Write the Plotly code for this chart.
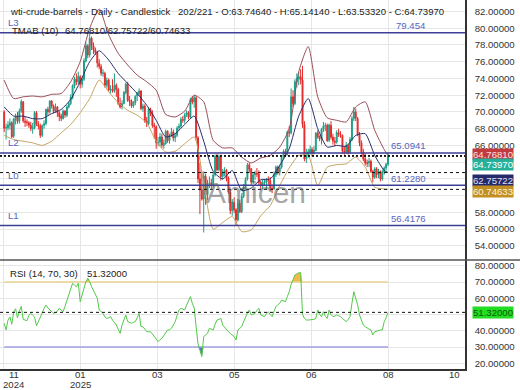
import plotly.graph_objects as go
from plotly.subplots import make_subplots

# ---------------- data ----------------
opens = [70.00, 68.10, 68.10, 68.40, 68.70, 67.10, 69.10, 69.40, 68.90, 70.10,
         71.20, 68.90, 68.80, 68.70, 68.40, 68.00, 68.10, 69.90, 68.50, 68.30,
         67.20, 68.40, 68.60, 70.30, 70.00, 71.30, 70.70, 70.10, 70.60, 69.90,
         69.50, 69.20, 70.10, 69.60, 70.60, 71.00, 71.70, 73.10, 73.90, 73.60,
         74.20, 73.30, 73.90, 76.10, 77.90, 76.80, 78.80, 77.90, 77.40, 77.10,
         75.80, 75.40, 74.60, 74.60, 73.20, 73.80, 72.60, 72.70, 72.50, 73.20,
         72.70, 71.00, 70.60, 71.00, 72.30, 73.30, 71.40, 71.30, 70.70, 71.10,
         71.90, 72.20, 72.50, 70.40, 70.70, 68.90, 68.60, 70.30, 69.80, 68.40,
         68.20, 66.30, 66.40, 67.00, 66.00, 66.20, 67.70, 66.60, 67.20, 67.60,
         66.90, 67.20, 68.10, 68.30, 69.10, 69.00, 69.70, 69.90, 69.40, 71.50,
         71.20, 71.70, 66.90, 62.00, 60.70, 59.60, 62.30, 60.10, 61.50, 61.50,
         61.30, 62.50, 64.70, 63.10, 64.70, 62.30, 62.80, 63.00, 62.10, 60.40,
         58.20, 59.20, 58.30, 57.10, 59.10, 58.10, 59.90, 61.00, 62.00, 63.70,
         63.20, 61.60, 62.50, 62.70, 62.60, 61.60, 61.20, 61.50, 61.60, 61.90,
         61.80, 60.90, 60.80, 62.50, 63.40, 62.80, 63.40, 64.60, 65.30, 65.00,
         67.60, 67.50, 71.80, 71.00, 73.60, 74.00, 74.20, 73.80, 68.50, 64.40,
         64.90, 65.20, 65.50, 65.10, 65.40, 67.50, 67.00, 66.80, 67.90, 68.30,
         68.40, 66.60, 68.40, 67.00, 66.50, 66.40, 67.50, 67.30, 67.20, 65.30,
         65.20, 66.00, 65.20, 66.70, 69.20, 70.00, 69.20, 67.30, 66.30, 65.20,
         64.40, 63.90, 63.90, 64.10, 62.90, 62.20, 63.20, 62.50, 62.90, 62.00,
         62.80, 63.30, 63.7464]
highs = [70.20, 68.60, 68.90, 69.20, 68.90, 69.30, 69.80, 70.00, 70.40, 71.50,
         71.30, 69.40, 69.10, 68.90, 68.80, 68.70, 70.10, 70.10, 68.90, 68.60,
         68.50, 69.00, 70.40, 70.60, 71.40, 71.40, 70.90, 71.00, 70.70, 70.10,
         69.80, 70.30, 70.20, 70.80, 71.20, 72.10, 73.30, 74.20, 74.60, 74.80,
         74.40, 74.20, 76.40, 78.30, 78.10, 79.454, 79.00, 78.30, 77.70, 77.30,
         76.30, 75.70, 75.10, 74.80, 74.10, 74.00, 73.20, 73.90, 74.60, 73.40,
         72.90, 71.70, 71.40, 72.50, 73.50, 73.60, 71.90, 71.50, 71.30, 72.00,
         72.40, 72.80, 72.60, 71.00, 70.90, 69.40, 70.60, 70.50, 70.20, 68.70,
         68.40, 67.00, 67.50, 67.40, 66.70, 67.90, 67.80, 67.40, 68.10, 67.90,
         67.50, 68.30, 68.60, 69.40, 69.50, 69.90, 70.20, 70.10, 71.70, 71.90,
         72.00, 71.90, 67.10, 63.90, 62.90, 62.90, 62.60, 61.90, 62.30, 62.00,
         62.80, 64.90, 65.00, 64.90, 64.90, 63.20, 63.40, 63.20, 62.30, 60.70,
         59.60, 59.80, 58.50, 59.60, 59.50, 60.30, 61.40, 62.20, 63.90, 63.90,
         63.30, 62.70, 63.00, 63.30, 63.00, 61.80, 61.90, 61.90, 62.10, 62.30,
         62.20, 61.30, 62.90, 63.60, 63.60, 63.70, 64.80, 65.50, 65.60, 67.80,
         68.30, 72.80, 72.60, 73.90, 74.60, 74.80, 75.10, 75.50, 68.90, 65.60,
         65.60, 66.00, 65.80, 65.90, 67.60, 67.80, 67.20, 68.10, 68.80, 68.70,
         68.60, 68.60, 68.90, 67.40, 67.00, 67.80, 68.00, 67.70, 67.30, 65.90,
         66.40, 66.20, 67.00, 69.50, 70.60, 70.40, 69.40, 67.60, 66.60, 65.60,
         65.00, 64.30, 64.50, 64.30, 63.10, 63.40, 63.40, 63.20, 63.00, 63.10,
         63.50, 63.90, 65.1414]
lows = [67.60, 66.70, 67.80, 67.90, 66.90, 66.90, 68.50, 68.60, 68.60, 69.90,
        68.70, 68.20, 68.30, 68.10, 67.70, 67.40, 67.90, 68.30, 67.90, 66.90,
        67.00, 68.00, 68.40, 69.60, 69.80, 70.40, 69.80, 69.90, 69.40, 68.90,
        68.90, 69.10, 69.30, 69.40, 70.40, 70.80, 71.50, 72.80, 73.20, 73.30,
        72.80, 72.90, 73.70, 75.90, 76.40, 76.50, 77.40, 76.90, 76.80, 75.30,
        75.10, 74.30, 74.20, 72.90, 72.90, 72.40, 72.20, 72.30, 72.30, 71.80,
        70.80, 70.40, 70.30, 70.90, 72.10, 71.20, 70.70, 70.50, 70.50, 70.80,
        71.30, 71.90, 70.20, 70.00, 68.70, 68.20, 68.40, 69.50, 68.10, 66.80,
        65.60, 65.90, 65.90, 65.70, 65.60, 66.10, 66.30, 66.20, 67.00, 66.50,
        66.40, 67.00, 67.80, 68.10, 68.70, 68.60, 69.40, 69.10, 69.20, 70.90,
        70.50, 66.60, 61.50, 57.80, 59.40, 55.60, 58.90, 59.50, 60.90, 60.80,
        60.90, 62.30, 62.90, 62.90, 61.80, 61.90, 62.30, 61.70, 60.20, 57.80,
        57.60, 57.90, 56.40, 56.90, 57.90, 57.90, 59.70, 60.80, 61.80, 62.70,
        61.30, 61.40, 61.90, 62.20, 61.30, 60.70, 60.80, 61.20, 60.80, 61.30,
        60.60, 60.30, 60.70, 62.20, 62.50, 62.40, 63.20, 64.40, 64.60, 64.80,
        67.00, 67.30, 70.60, 70.80, 72.90, 73.20, 73.30, 68.10, 64.10, 63.90,
        64.50, 64.90, 64.70, 64.90, 65.30, 66.80, 66.50, 66.10, 67.60, 67.70,
        66.40, 66.40, 66.70, 66.10, 65.90, 66.20, 67.00, 66.90, 65.00, 64.90,
        65.00, 64.90, 65.00, 66.50, 68.90, 68.90, 67.10, 65.90, 64.90, 64.10,
        63.60, 63.40, 63.40, 62.70, 61.60, 62.00, 62.10, 62.10, 61.70, 61.80,
        62.50, 63.00, 63.5332]
closes = [68.04, 68.12, 68.43, 68.70, 67.02, 69.16, 69.39, 68.87, 70.10, 71.24,
          68.94, 68.77, 68.72, 68.40, 68.00, 68.10, 69.94, 68.54, 68.30, 67.20,
          68.37, 68.59, 70.29, 70.02, 71.29, 70.71, 70.08, 70.58, 69.91, 69.46,
          69.24, 70.10, 69.62, 70.60, 70.99, 71.72, 73.13, 73.96, 73.56, 74.25,
          73.32, 73.92, 76.10, 77.90, 76.80, 78.80, 77.90, 77.40, 77.10, 75.83,
          75.44, 74.62, 74.66, 73.17, 73.77, 72.62, 72.73, 72.53, 73.16, 72.70,
          71.03, 70.61, 71.00, 72.32, 73.32, 71.37, 71.29, 70.74, 71.10, 71.85,
          72.25, 72.48, 70.40, 70.70, 68.93, 68.62, 70.35, 69.76, 68.37, 68.26,
          66.31, 66.36, 67.04, 66.03, 66.25, 67.68, 66.55, 67.18, 67.58, 66.90,
          67.16, 68.07, 68.28, 69.11, 69.00, 69.65, 69.92, 69.36, 71.48, 71.20,
          71.71, 66.95, 61.99, 60.70, 59.58, 62.35, 60.07, 61.50, 61.53, 61.33,
          62.47, 64.68, 63.08, 64.67, 62.27, 62.79, 63.02, 62.05, 60.42, 58.21,
          59.24, 58.29, 57.13, 59.09, 58.07, 59.91, 61.02, 61.95, 63.67, 63.15,
          61.62, 62.49, 62.69, 62.56, 61.57, 61.20, 61.53, 61.60, 61.89, 61.84,
          60.94, 60.79, 62.52, 63.41, 62.85, 63.37, 64.58, 65.29, 64.98, 67.60,
          67.50, 71.80, 71.00, 73.60, 74.00, 74.20, 73.80, 68.51, 64.37, 64.92,
          65.24, 65.52, 65.11, 65.45, 67.45, 67.00, 66.80, 67.93, 68.33, 68.38,
          66.57, 68.45, 66.98, 66.52, 66.38, 67.54, 67.34, 67.20, 65.31, 65.25,
          66.03, 65.16, 66.71, 69.21, 70.00, 69.26, 67.33, 66.29, 65.16, 64.35,
          63.88, 63.88, 64.10, 62.90, 62.20, 63.20, 62.50, 62.90, 62.00, 62.80,
          63.30, 63.75, 64.7397]
rsi = [44.5, 40.5, 46.5, 48.5, 44.0, 51.5, 53.5, 48.0, 52.0, 55.0,
       47.0, 46.5, 46.2, 49.5, 50.7, 49.5, 48.5, 43.0, 45.5, 47.6,
       51.0, 53.8, 55.8, 54.0, 52.8, 51.5, 50.7, 51.2, 52.0, 53.8,
       52.5, 51.7, 55.0, 58.9, 62.0, 65.1, 69.2, 68.0, 67.1, 69.2,
       57.9, 62.0, 67.0, 70.2, 72.3, 70.2, 67.1, 64.5, 62.0, 60.0,
       52.8, 51.5, 50.7, 48.5, 47.6, 48.0, 48.7, 46.6, 45.0, 43.5,
       41.0, 38.4, 43.5, 47.0, 49.7, 45.6, 45.0, 44.6, 45.2, 45.6,
       48.0, 50.7, 42.5, 42.5, 41.0, 39.4, 39.4, 39.4, 38.0, 36.4,
       34.5, 33.3, 34.5, 35.3, 37.0, 38.4, 40.5, 40.5, 41.5, 43.5,
       45.6, 49.5, 52.8, 53.8, 53.3, 52.8, 55.8, 58.5, 61.0, 56.9,
       54.0, 42.5, 32.0, 28.0, 24.1, 36.4, 37.5, 38.4, 41.5, 41.0,
       40.5, 44.0, 46.6, 47.0, 47.6, 43.5, 42.0, 40.5, 39.4, 38.4,
       37.5, 36.4, 34.3, 40.5, 41.5, 42.5, 45.5, 48.7, 51.0, 52.8,
       49.7, 50.2, 50.7, 52.5, 53.8, 49.7, 49.2, 48.7, 50.5, 51.7,
       50.0, 48.7, 52.0, 54.8, 56.0, 56.9, 58.9, 58.4, 57.9, 61.0,
       64.0, 68.5, 71.2, 74.3, 75.0, 75.7, 75.7, 50.0, 47.6, 46.6,
       46.6, 46.6, 46.6, 47.0, 47.6, 52.8, 50.0, 48.7, 51.7, 49.0,
       47.6, 52.8, 50.0, 48.7, 49.0, 49.7, 49.2, 48.7, 47.6, 46.5,
       45.6, 47.0, 48.7, 56.9, 64.0, 60.0, 56.0, 49.7, 46.0, 43.5,
       42.5, 41.5, 41.0, 40.5, 37.4, 39.4, 39.8, 40.5, 40.5, 40.5,
       45.6, 48.0, 51.32]

band_idx = [0, 5, 10, 15, 20, 25, 30, 35, 40, 45, 50, 55, 60, 65, 70, 75, 80, 85, 90, 95,
            100, 105, 110, 115, 120, 125, 130, 135, 140, 145, 150, 155, 160, 165, 170, 175,
            180, 185, 190, 195, 200, 202]
band_upper = [73.8, 71.6, 71.8, 71.9, 71.8, 72.1, 72.2, 73.6, 76.0, 80.0, 82.3, 79.2, 77.0, 75.6,
              74.4, 73.6, 72.6, 69.7, 69.4, 70.1, 72.0, 71.2, 66.6, 65.7, 65.7, 64.6, 63.9, 64.5,
              64.8, 65.8, 68.0, 74.8, 77.8, 71.8, 69.3, 69.0, 68.8, 70.6, 71.2, 67.8, 65.5, 64.76810]
band_mid = [70.6, 69.5, 69.5, 69.2, 69.2, 69.8, 70.3, 71.5, 73.6, 76.0, 77.3, 76.2, 74.6, 73.4,
            72.2, 70.8, 69.0, 67.0, 67.4, 68.5, 69.5, 66.5, 62.9, 62.0, 63.0, 60.6, 60.9, 61.9,
            62.0, 63.6, 65.6, 69.5, 71.6, 68.0, 65.8, 66.0, 65.9, 67.2, 67.4, 64.8, 63.0, 62.75722]
band_lower = [67.2, 66.7, 66.5, 66.3, 66.0, 66.5, 67.5, 68.5, 69.9, 71.6, 73.8, 72.4, 71.1, 70.2,
              69.6, 68.7, 66.5, 65.2, 65.3, 66.2, 67.0, 61.5, 56.0, 56.8, 57.5, 55.7, 55.9, 57.6,
              58.8, 61.2, 63.3, 64.8, 64.8, 61.2, 63.4, 63.7, 63.8, 64.6, 63.4, 61.0, 60.8, 60.74633]

levels = [79.454, 65.0941, 61.2280, 56.4176]
level_names = ["L3", "L2", "L0", "L1"]
level_texts = ["79.454", "65.0941", "61.2280", "56.4176"]

rsi_levels = [70, 30]
main_ticks = [54, 56, 58, 60, 62, 64, 66, 68, 70, 72, 74, 76, 78, 80, 82]
main_hidden = [60, 62, 64]          # labels covered by the value badges
rsi_ticks = [20, 30, 40, 50, 60, 70, 80]
rsi_hidden = [50]
x_grid = [-0.5, 40, 80.5, 121, 161.5, 202]
# (bar position of the label, month, year)
x_labels = [(5.2, "11", "2024"), (40, "01", "2025"), (80.5, "03", ""), (121, "05", ""),
            (161.5, "06", ""), (202, "08", ""), (236.8, "10", "")]

# ---------------- styling ----------------
FONT = "Liberation Sans, Arial, sans-serif"
UP = "#1f9e86"
DN = "#e42b2b"
C_UP_BAND = "#9a4d58"
C_MID_BAND = "#272d6c"
C_LOW_BAND = "#c4a460"
C_LEVEL = "#3c3f96"
C_LABEL = "#5566c0"
GRID = "#e6e6e6"
FS = 9.6

n = len(closes)
bars = list(range(n))

fig = make_subplots(rows=2, cols=1, shared_xaxes=True, vertical_spacing=0,
                    row_heights=[260 / 369, 109 / 369])

fig.add_trace(go.Scatter(x=band_idx, y=band_upper, mode="lines",
                         line=dict(color=C_UP_BAND, width=1, shape="spline", smoothing=0.6),
                         hoverinfo="skip"), row=1, col=1)
fig.add_trace(go.Scatter(x=band_idx, y=band_mid, mode="lines",
                         line=dict(color=C_MID_BAND, width=1, shape="spline", smoothing=0.6),
                         hoverinfo="skip"), row=1, col=1)
fig.add_trace(go.Scatter(x=band_idx, y=band_lower, mode="lines",
                         line=dict(color=C_LOW_BAND, width=1, shape="spline", smoothing=0.6),
                         hoverinfo="skip"), row=1, col=1)

fig.add_trace(go.Candlestick(x=bars, open=opens, high=highs, low=lows, close=closes,
                             increasing=dict(line=dict(color=UP, width=1), fillcolor=UP),
                             decreasing=dict(line=dict(color=DN, width=1), fillcolor=DN),
                             whiskerwidth=0), row=1, col=1)

# RSI panel
over = [max(v, rsi_levels[0]) for v in rsi]
under = [min(v, rsi_levels[1]) for v in rsi]
fig.add_trace(go.Scatter(x=[bars[0], bars[-1]], y=[rsi_levels[0]] * 2, mode="lines",
                         line=dict(color="#e8d592", width=1.5), hoverinfo="skip"), row=2, col=1)
fig.add_trace(go.Scatter(x=bars, y=over, mode="lines", line=dict(width=0, color="#f2b84a"),
                         fill="tonexty", fillcolor="#f2b84a", hoverinfo="skip"), row=2, col=1)
fig.add_trace(go.Scatter(x=[bars[0], bars[-1]], y=[rsi_levels[1]] * 2, mode="lines",
                         line=dict(color="#a0a0e0", width=1.5), hoverinfo="skip"), row=2, col=1)
fig.add_trace(go.Scatter(x=bars, y=under, mode="lines", line=dict(width=0, color="#6470c8"),
                         fill="tonexty", fillcolor="#6470c8", hoverinfo="skip"), row=2, col=1)
fig.add_trace(go.Scatter(x=bars, y=rsi, mode="lines", line=dict(color="#52c94a", width=1),
                         hoverinfo="skip"), row=2, col=1)

shapes = []
for v in levels:
    shapes.append(dict(type="line", xref="x domain", x0=0, x1=1, yref="y", y0=v, y1=v,
                       line=dict(color=C_LEVEL, width=1.5), layer="above"))
# current-value lines
shapes.append(dict(type="line", xref="x domain", x0=0, x1=1, yref="y", y0=band_upper[-1],
                   y1=band_upper[-1], line=dict(color="#111", width=1.5, dash="2px,2px")))
shapes.append(dict(type="line", xref="x domain", x0=0, x1=1, yref="y", y0=closes[-1],
                   y1=closes[-1], line=dict(color="#111", width=1.5, dash="2px,2px")))
shapes.append(dict(type="line", xref="x domain", x0=0, x1=1, yref="y", y0=band_mid[-1],
                   y1=band_mid[-1], line=dict(color="#111", width=1, dash="3px,3px")))
shapes.append(dict(type="line", xref="x domain", x0=0, x1=1, yref="y", y0=band_lower[-1],
                   y1=band_lower[-1], line=dict(color="#111", width=1, dash="3px,3px")))
shapes.append(dict(type="line", xref="x2 domain", x0=0, x1=1, yref="y2", y0=rsi[-1],
                   y1=rsi[-1], line=dict(color="#111", width=1, dash="3px,3px")))
# panel divider
shapes.append(dict(type="line", xref="paper", x0=0, x1=520 / 465, yref="paper",
                   y0=109 / 369, y1=109 / 369, line=dict(color="#555", width=1.5)))

ann = []
def text(x, y, s, color="#333", size=FS, xanchor="left", xref="paper", yref="paper", **kw):
    ann.append(dict(x=x, y=y, xref=xref, yref=yref, text=s, showarrow=False,
                    xanchor=xanchor, yanchor="middle",
                    font=dict(family=FONT, size=size, color=color), **kw))

H = 369.0
W = 465.0
text(8 / W, 1 - 12 / H, "wti-crude-barrels - Daily - Candlestick", color="#222")
text(176 / W, 1 - 12 / H,
     "202/221 - O:%.5f - H:%.5f - L:%.5f - C:%.5f" % (opens[-1], highs[-1], lows[-1], closes[-1]),
     color="#222")
text(10 / W, 1 - 30 / H, "TMAB (10)", color="#222")
text(63 / W, 1 - 30 / H, "%.5f/%.5f/%.5f" % (band_upper[-1], band_mid[-1], band_lower[-1]),
     color="#222")
text(8 / W, 1 - 273 / H, "RSI (14, 70, 30)", color="#222")
text(85 / W, 1 - 273 / H, "%.5f" % rsi[-1], color="#222")

for v, nm, tx in zip(levels, level_names, level_texts):
    text(6 / W, v, nm, color=C_LABEL, yref="y", yshift=10)
    text(428 / W, v, tx, color=C_LABEL, yref="y", xanchor="right", yshift=7)

# value badges on the price axis
badges = [(band_upper[-1], "#c23a3e", "#f8e0e0", 1.5),
          (closes[-1], "#26b09a", "#ffffff", -8.5),
          (band_mid[-1], "#262a6a", "#e0e2f0", -7.5),
          (band_lower[-1], "#c28f22", "#fff4d8", -2.5)]
for v, bg, fg, sh in badges:
    ann.append(dict(x=1, y=v, xref="paper", yref="y", text="%.5f" % v, showarrow=False,
                    xanchor="left", yanchor="middle", xshift=7, yshift=sh, bgcolor=bg,
                    borderpad=0, font=dict(family=FONT, size=FS, color=fg)))
ann.append(dict(x=1, y=rsi[-1], xref="paper", yref="y2", text="%.5f" % rsi[-1], showarrow=False,
                xanchor="left", yanchor="middle", xshift=7, bgcolor="#22dd22", borderpad=0,
                font=dict(family=FONT, size=FS, color="#0b5a0b")))

# x-axis labels (month, with the year underneath where it changes)
for xv, mon, yr in x_labels:
    ann.append(dict(x=xv, y=0, xref="x2", yref="paper", text=mon, showarrow=False,
                    xanchor="center", yanchor="middle", yshift=-5.5, borderpad=0,
                    font=dict(family=FONT, size=FS, color="#333")))
    if yr:
        ann.append(dict(x=xv, y=0, xref="x2", yref="paper", text=yr, showarrow=False,
                        xanchor="center", yanchor="middle", yshift=-15.5, borderpad=0,
                        font=dict(family=FONT, size=FS, color="#333")))

# watermark
ann.append(dict(x=256 / W, y=1 - 192 / H, xref="paper", yref="paper", text="Amicen",
                showarrow=False, xanchor="center", yanchor="middle",
                font=dict(family=FONT, size=30, color="rgba(90,90,90,0.55)")))

fig.update_layout(
    width=520, height=390, margin=dict(l=0, r=55, t=0, b=21, autoexpand=False),
    paper_bgcolor="white", plot_bgcolor="white", showlegend=False,
    shapes=shapes, annotations=ann,
    font=dict(family=FONT, size=FS, color="#333"),
    xaxis=dict(rangeslider=dict(visible=False)),
    xaxis2=dict(rangeslider=dict(visible=False)),
)
fig.update_xaxes(range=[-2.2, 242.5], showgrid=True, gridcolor=GRID, gridwidth=1,
                 zeroline=False, tickvals=x_grid, showticklabels=False, ticks="",
                 automargin=False)
fig.update_xaxes(showline=True, linecolor="#333", linewidth=1.5, row=2, col=1)
fig.update_yaxes(side="right", showgrid=True, gridcolor=GRID, zeroline=False,
                 showline=True, linecolor="#333", linewidth=1.5,
                 ticks="outside", ticklen=6, tickcolor="rgba(0,0,0,0)", automargin=False,
                 tickfont=dict(family=FONT, size=FS, color="#333"))
fig.update_yaxes(range=[52.31, 83.37], tickvals=main_ticks,
                 ticktext=["" if t in main_hidden else "%.5f" % t for t in main_ticks],
                 row=1, col=1)
fig.update_yaxes(range=[16.46, 83.54], tickvals=rsi_ticks,
                 ticktext=["" if t in rsi_hidden else "%.5f" % t for t in rsi_ticks],
                 row=2, col=1)

fig.write_html("out.html", config={"displayModeBar": False},
               post_script="document.body.style.margin='0';document.body.style.padding='0';")
